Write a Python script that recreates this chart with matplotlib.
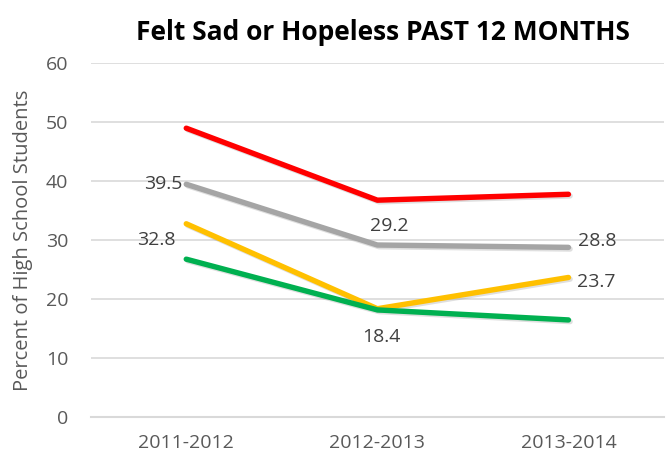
import matplotlib
matplotlib.use("Agg")
import matplotlib.pyplot as plt
import matplotlib.patheffects as pe

categories = ["2011-2012", "2012-2013", "2013-2014"]
red_vals = [49.0, 36.8, 37.8]
gray_vals = [39.5, 29.2, 28.8]
yellow_vals = [32.8, 18.4, 23.7]
green_vals = [26.8, 18.2, 16.5]
yticks = [0, 10, 20, 30, 40, 50, 60]

plt.rcParams['font.family'] = ['Open Sans', 'DejaVu Sans']

fig = plt.figure(figsize=(6.69, 4.61), dpi=100)
ax = fig.add_axes([0.1356, 0.0948, 0.8569, 0.7679])

x = list(range(len(categories)))
shadow = [pe.SimpleLineShadow(offset=(1.2, -1.2), alpha=0.25, shadow_color='gray'), pe.Normal()]
series = [(red_vals, '#FF0000'), (gray_vals, '#A5A5A5'), (yellow_vals, '#FFC000'), (green_vals, '#00B050')]
for vals, col in series:
    ax.plot(x, vals, color=col, lw=3.9, solid_capstyle='round', solid_joinstyle='round',
            path_effects=shadow, zorder=3)

fs = 14
ax.set_xlim(-0.5, 2.5)
ax.set_ylim(0, 60)
ax.set_yticks(yticks)
ax.set_xticks(x)
ax.set_xticklabels(categories)
ax.grid(axis='y', color='#D9D9D9', lw=1.2)
ax.set_axisbelow(True)
for s in ['top', 'right', 'left']:
    ax.spines[s].set_visible(False)
ax.spines['bottom'].set_color('#D9D9D9')
ax.spines['bottom'].set_linewidth(1.5)
ax.tick_params(axis='both', length=0, labelsize=fs, colors='#595959')
ax.tick_params(axis='y', pad=16)
ax.tick_params(axis='x', pad=12)
ax.set_ylabel("Percent of High School Students", fontsize=14.5, color='#595959', labelpad=9)

lab_kw = dict(textcoords='offset points', fontsize=fs, color='#404040', va='center')
k = 72 / 100
ax.annotate(f"{gray_vals[0]}", (0, gray_vals[0]), xytext=(-4 * k, 0), ha='right', **lab_kw)
ax.annotate(f"{yellow_vals[0]}", (0, yellow_vals[0]), xytext=(-11 * k, -16 * k), ha='right', **lab_kw)
ax.annotate(f"{gray_vals[1]}", (1, gray_vals[1]), xytext=(12 * k, 19 * k), ha='center', **lab_kw)
ax.annotate(f"{gray_vals[2]}", (2, gray_vals[2]), xytext=(10 * k, 6 * k), ha='left', **lab_kw)
ax.annotate(f"{yellow_vals[2]}", (2, yellow_vals[2]), xytext=(9 * k, -5 * k), ha='left', **lab_kw)
ax.annotate(f"{yellow_vals[1]}", (1, yellow_vals[1]), xytext=(4 * k, -28 * k), ha='center', **lab_kw)

fig.text(0.5725, 0.93, "Felt Sad or Hopeless PAST 12 MONTHS", ha='center', va='center',
         fontsize=19, fontweight='bold', color='black')

fig.savefig("out.png", dpi=100)
